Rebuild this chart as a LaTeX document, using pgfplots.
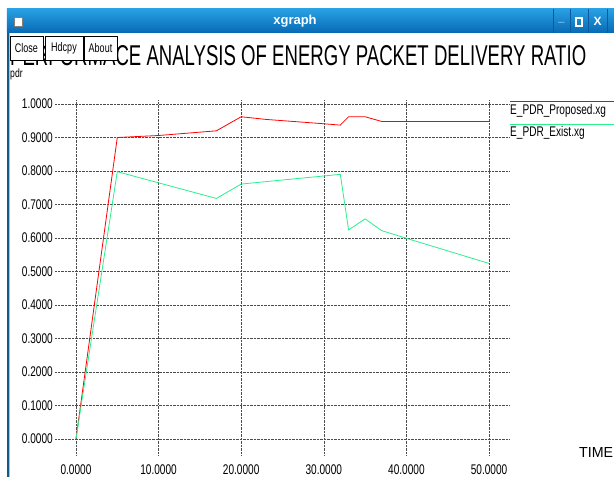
\documentclass[border=0pt]{standalone}
\usepackage{fontspec}
\setmainfont{Liberation Sans}
\newfontfamily\cond[FakeStretch=0.72]{Liberation Sans}
\usepackage{pgfplots}
\pgfplotsset{compat=1.18}
\definecolor{xred}{RGB}{255,0,0}
\definecolor{xgreen}{RGB}{40,240,140}
\definecolor{bartop}{RGB}{40,160,228}
\definecolor{barbot}{RGB}{8,105,180}
\definecolor{bardark}{RGB}{10,90,160}
\definecolor{borderdark}{RGB}{16,90,140}
\definecolor{borderlight}{RGB}{150,200,235}
\pgfplotstableread{
x y
0 0
5 0.900
10 0.906
17 0.920
20 0.962
23 0.954
29.5 0.942
32 0.937
33 0.962
35 0.962
37 0.948
50 0.948
}\proposed
\pgfplotstableread{
x y
0 0
5 0.798
17 0.718
20 0.761
32 0.790
33 0.624
35 0.657
37 0.622
40 0.599
50 0.524
}\exist
\begin{document}
\begin{tikzpicture}
\begin{pgfinterruptboundingbox}
\begin{axis}[
  scale only axis,
  width=455pt, height=355pt,
  xmin=-2.54, xmax=52.54, ymin=-0.048, ymax=1.012,
  axis line style={draw=none},
  major tick length=0pt,
  xtick={0,10,20,30,40,50},
  ytick={0,0.1,0.2,0.3,0.4,0.5,0.6,0.7,0.8,0.9,1.0},
  grid=major,
  grid style={densely dotted, black!70, line width=0.6pt},
  tick label style={font=\cond\fontsize{14}{14}\selectfont, inner sep=0pt},
  yticklabel style={anchor=east, xshift=-2pt},
  xticklabel style={anchor=north, yshift=-10pt},
  /pgf/number format/fixed,
  /pgf/number format/fixed zerofill,
  /pgf/number format/precision=4,
  /pgf/number format/assume math mode=true,
]
\addplot[xred, line width=0.8pt] table {\proposed};
\addplot[xgreen, line width=0.8pt] table {\exist};
\coordinate (O) at (rel axis cs:0,0);
\end{axis}
\end{pgfinterruptboundingbox}
\begin{scope}[shift={(O)}, xshift=-55pt, yshift=-22pt, x=1pt, y=1pt]
\path[use as bounding box] (0,0) rectangle (614,477);
% window title bar
\shade[top color=bartop, bottom color=barbot] (7,444) rectangle (614,468);
\fill[white] (14,451) rectangle (22,460);
\draw[gray] (14,451) rectangle (22,460);
\node[text=white, font=\bfseries\fontsize{13}{13}\selectfont] at (295,456) {xgraph};
\foreach \sx in {553,570,588,607} {\draw[bardark, line width=0.8pt] (\sx,444) -- (\sx,468);}
\node[text=white, font=\bfseries\fontsize{11}{11}\selectfont] at (561.5,455) {\_};
\draw[white, line width=1.2pt] (576,451) rectangle (582,459);
\node[text=white, font=\bfseries\fontsize{12}{12}\selectfont] at (597.5,456) {X};
% left window border
\fill[borderdark] (7,0) rectangle (9,444);
\fill[borderlight] (9,0) rectangle (10,444);
% title
\node[anchor=base west, inner sep=0pt] at (10,411) {\resizebox{576pt}{20pt}{PERFORMACE ANALYSIS OF ENERGY PACKET DELIVERY RATIO}};
% buttons
\foreach \a/\b/\t in {10/43/Close,45/83/Hdcpy,84/117/About} {
  \filldraw[fill=white, draw=black, line width=0.6pt] (\a,417) rectangle (\b,441);
  \node[font=\cond\fontsize{12.5}{12.5}\selectfont, inner sep=0pt] at ({(\a+\b)/2},429) {\t};
}
\node[anchor=west, inner sep=0pt, font=\cond\fontsize{12}{12}\selectfont] at (10,403) {pdr};
\node[anchor=west, inner sep=0pt] at (579,24) {\resizebox{34pt}{10pt}{\cond TIME}};
% legend
\draw[xred, line width=1pt] (510,375.3) -- (614,375.3);
\node[anchor=west, inner sep=0pt, font=\cond\fontsize{14}{14}\selectfont] at (510,366) {E\_PDR\_Proposed.xg};
\draw[xgreen, line width=1.5pt] (510,352.7) -- (614,352.7);
\node[anchor=west, inner sep=0pt, font=\cond\fontsize{14}{14}\selectfont] at (510,344) {E\_PDR\_Exist.xg};
\end{scope}
\end{tikzpicture}
\end{document}
